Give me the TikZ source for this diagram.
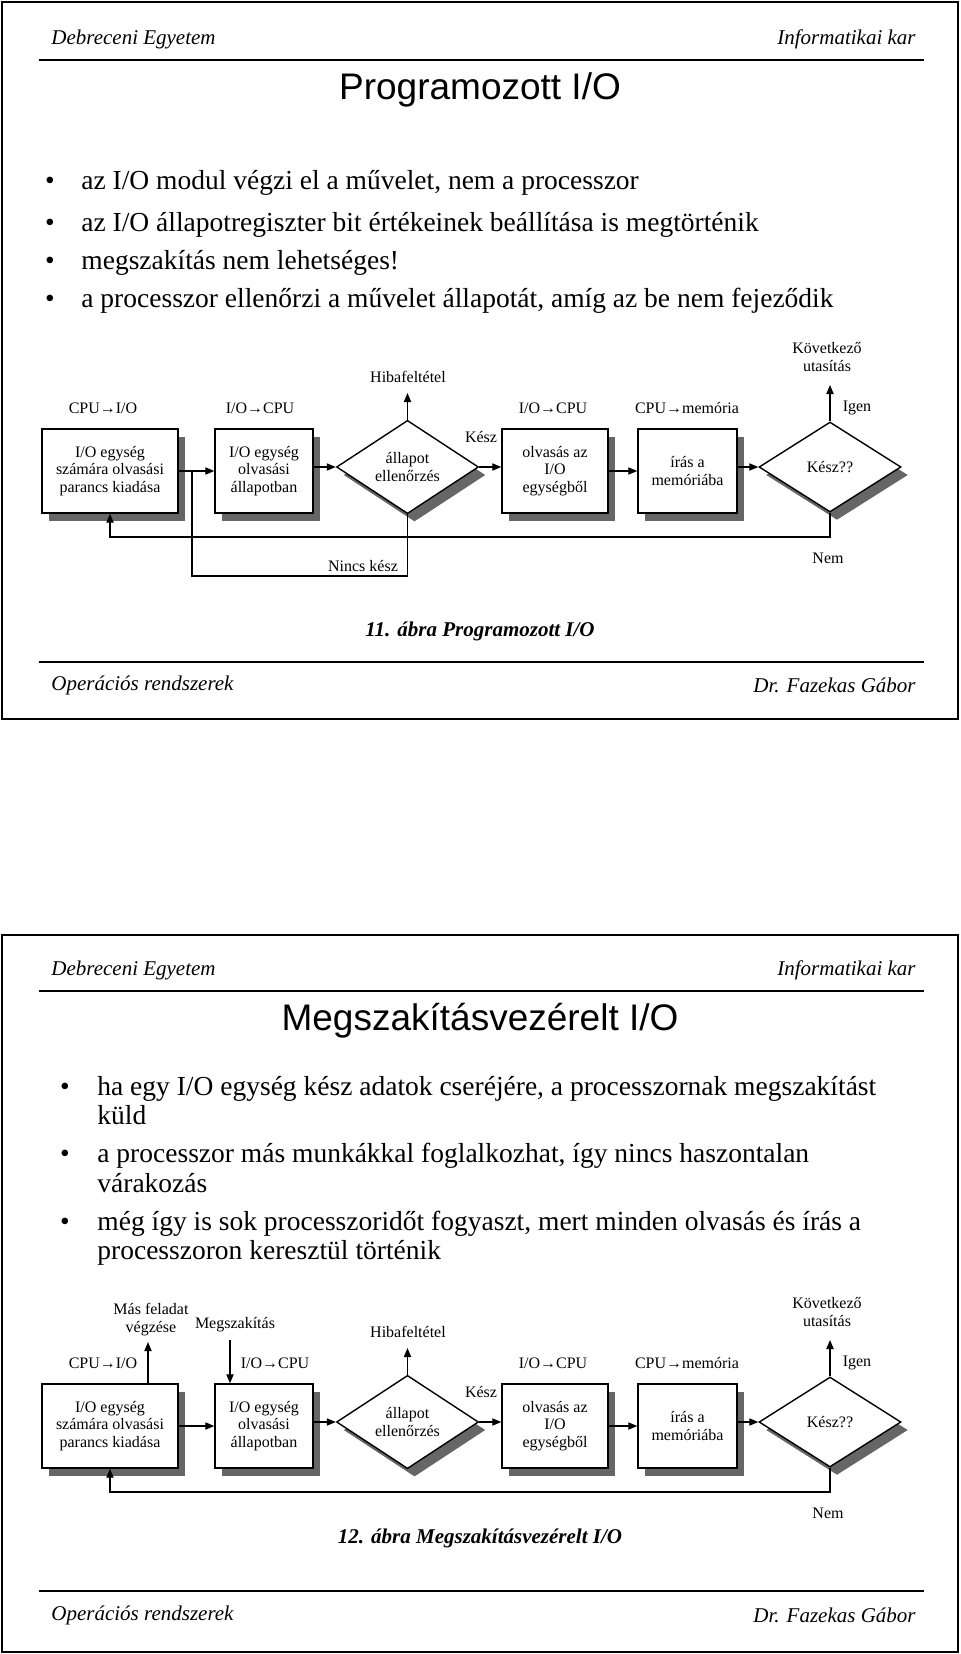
\documentclass[tikz,border=0pt]{standalone}
\usepackage{fontspec}
\setmainfont{Liberation Serif}
\newfontfamily\ttlfont{Liberation Sans}
\usetikzlibrary{arrows.meta,shapes.geometric,shadows}
\newcommand\iodiag[1]{%
  \node[box,minimum width=68pt] (#1b1) at (110,471) {I/O egység\\számára olvasási\\parancs kiadása};
  \node[box,minimum width=49pt] (#1b2) at (264,471) {I/O egység\\olvasási\\állapotban};
  \node[dia] (#1d1) at (407.5,467) {állapot\\ellenőrzés};
  \node[box,minimum width=53pt] (#1b3) at (555,471) {olvasás az\\I/O\\egységből};
  \node[box,minimum width=49.5pt] (#1b4) at (687.5,471) {írás a\\memóriába};
  \node[dia] (#1d2) at (830,467) {Kész??};
  \node[lbl] (#1lcpu) at (103,408) {CPU→I/O};
  \node[lbl] (#1lhiba) at (408,377) {Hibafeltétel};
  \node[lbl] (#1lio) at (553,408) {I/O→CPU};
  \node[lbl] (#1lmem) at (687,408) {CPU→memória};
  \node[lbl] (#1lkesz) at (481,437) {Kész};
  \node[lbl] (#1lkov) at (827,357) {Következő\\utasítás};
  \node[lbl] (#1ligen) at (857,408) {Igen};
  \node[lbl] (#1lnem) at (828,558) {Nem};
  \coordinate (#1h) at (407.5,393);
  \coordinate (#1k) at (830,385);
  \coordinate (#1r) at (110,537);
  \draw[arr] (#1b1.east) -- (#1b2.west);
  \draw[arr] (#1b2.east |- #1d1.west) -- (#1d1.west);
  \draw[arr] (#1d1.east) -- (#1d1.east -| #1b3.west);
  \draw[arr] (#1b3.east) -- (#1b4.west);
  \draw[arr] (#1b4.east |- #1d2.west) -- (#1d2.west);
  \draw[arr] (#1d1.north) -- (#1h);
  \draw[arr] (#1d2.north) -- (#1k);
  \draw[arr] (#1d2.south) |- (#1r) -- (#1b1.south);
}
\begin{document}
\begin{tikzpicture}[x=0.5pt,y=-0.5pt,
  pageframe/.style={draw,line width=1.4pt},
  rulel/.style={line width=0.8pt},
  hdr/.style={inner sep=0pt,font=\fontsize{10.5}{12}\selectfont\itshape},
  ttl/.style={inner sep=0pt,font=\ttlfont\fontsize{18.5}{22}\selectfont},
  bul/.style={inner sep=0pt,anchor=base west,font=\fontsize{13.75}{16}\selectfont},
  bdot/.style={inner sep=0pt,anchor=base,font=\fontsize{13.75}{16}\selectfont},
  capt/.style={inner sep=0pt,font=\fontsize{10.5}{12}\selectfont\bfseries\itshape},
  lbl/.style={inner sep=0pt,align=center,font=\fontsize{8}{9}\selectfont},
  shd/.style={drop shadow={shadow xshift=3.5pt,shadow yshift=-4pt,fill=black!60,opacity=1}},
  box/.style={draw,line width=0.7pt,fill=white,minimum height=42pt,inner sep=0pt,align=center,font=\fontsize{8}{8.6}\selectfont,shd},
  dia/.style={diamond,draw,line width=0.7pt,fill=white,minimum width=71pt,minimum height=45pt,inner sep=0pt,align=center,font=\fontsize{8}{8.6}\selectfont,shd},
  conn/.style={line width=0.6pt},
  arr/.style={line width=0.6pt,-{Triangle[length=4.5pt,width=3.6pt]}}
]
\useasboundingbox (0,0) rectangle (960,1654);
% ---------------- frame 1
\draw[pageframe] (2,2) rectangle (958,719);
\node[hdr,anchor=west] (h1l) at (51,39) {Debreceni Egyetem};
\node[hdr,anchor=east] (h1r) at (916,39) {Informatikai kar};
\coordinate (r1a) at (39,60); \coordinate (r1b) at (924,60);
\draw[rulel] (r1a) -- (r1b);
\node[ttl] (t1) at (480,90) {Programozott I/O};
\node[bdot] (p1a) at (50,189) {•}; \node[bul] (q1a) at (81,189) {az I/O modul végzi el a művelet, nem a processzor};
\node[bdot] (p1b) at (50,231) {•}; \node[bul] (q1b) at (81,231) {az I/O állapotregiszter bit értékeinek beállítása is megtörténik};
\node[bdot] (p1c) at (50,269) {•}; \node[bul] (q1c) at (81,269) {megszakítás nem lehetséges!};
\node[bdot] (p1d) at (50,307) {•}; \node[bul] (q1d) at (81,307) {a processzor ellenőrzi a művelet állapotát, amíg az be nem fejeződik};
\iodiag{A}
\node[lbl] (Alio1) at (260,408) {I/O→CPU};
\node[lbl] (Alnincs) at (363,566) {Nincs kész};
\coordinate (Aj) at (192,471);
\coordinate (Ac) at (192,576);
\draw[conn] (Ad1.south) |- (Ac) -- (Aj);
\node[capt] (c1) at (480,631) {11. ábra Programozott I/O};
\coordinate (f1a) at (39,662); \coordinate (f1b) at (924,662);
\draw[rulel] (f1a) -- (f1b);
\node[hdr,anchor=west] (o1l) at (51,685) {Operációs rendszerek};
\node[hdr,anchor=east] (o1r) at (916,685) {Dr. Fazekas Gábor};
% ---------------- frame 2
\draw[pageframe] (2,935) rectangle (958,1652);
\node[hdr,anchor=west] (h2l) at (51,970) {Debreceni Egyetem};
\node[hdr,anchor=east] (h2r) at (916,970) {Informatikai kar};
\coordinate (r2a) at (39,991); \coordinate (r2b) at (924,991);
\draw[rulel] (r2a) -- (r2b);
\node[ttl] (t2) at (480,1021) {Megszakításvezérelt I/O};
\node[bdot] (p2a) at (65,1095) {•}; \node[bul] (q2a) at (97,1095) {ha egy I/O egység kész adatok cseréjére, a processzornak megszakítást};
\node[bul] (q2b) at (97,1124) {küld};
\node[bdot] (p2c) at (65,1162) {•}; \node[bul] (q2c) at (97,1162) {a processzor más munkákkal foglalkozhat, így nincs haszontalan};
\node[bul] (q2d) at (97,1192) {várakozás};
\node[bdot] (p2e) at (65,1230) {•}; \node[bul] (q2e) at (97,1230) {még így is sok processzoridőt fogyaszt, mert minden olvasás és írás a};
\node[bul] (q2f) at (97,1259) {processzoron keresztül történik};
\begin{scope}[shift={(0,955)}]
\iodiag{B}
\node[lbl] (Blio1) at (275,408) {I/O→CPU};
\node[lbl] (Blmas) at (151,365) {Más feladat\\végzése};
\node[lbl] (Blmeg) at (235,370) {Megszakítás};
\coordinate (Bmf) at (148,387);
\coordinate (Bmz) at (230,385);
\draw[arr] (Bb1.north -| Bmf) -- (Bmf);
\draw[arr] (Bmz) -- (Bmz |- Bb2.north);
\end{scope}
\node[capt] (c2) at (480,1538) {12. ábra Megszakításvezérelt I/O};
\coordinate (f2a) at (39,1591); \coordinate (f2b) at (924,1591);
\draw[rulel] (f2a) -- (f2b);
\node[hdr,anchor=west] (o2l) at (51,1615) {Operációs rendszerek};
\node[hdr,anchor=east] (o2r) at (916,1615) {Dr. Fazekas Gábor};
\end{tikzpicture}
\end{document}
